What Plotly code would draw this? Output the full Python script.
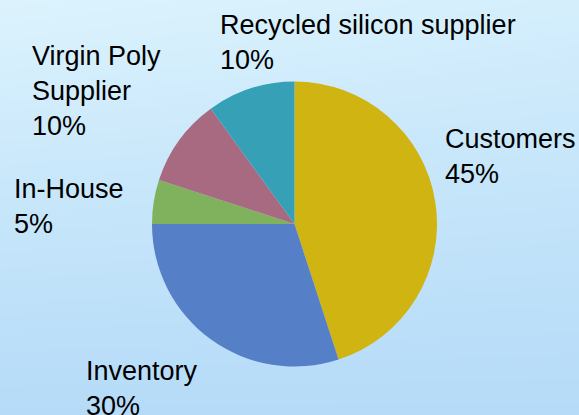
import plotly.graph_objects as go

# Data
labels = ["Customers", "Inventory", "In-House", "Virgin Poly Supplier", "Recycled silicon supplier"]
values = [45, 30, 5, 10, 10]
label_text = ["Customers", "Inventory", "In-House", "Virgin Poly<br>Supplier", "Recycled silicon supplier"]
pct_text = ["45%", "30%", "5%", "10%", "10%"]
colors = ["#CFB412", "#557FC6", "#80B25E", "#A86A80", "#36A0B6"]

W, H = 579, 415
# label top-left positions (px) for annotations
label_pos = [(443, 122), (84, 354), (12, 172), (30, 39), (218, 8)]

fig = go.Figure()

# background gradient
bg_z = [[1.0, 1.0, 1.0],
        [0.55, 0.6, 0.65],
        [0.0, 0.1, 0.2]]
fig.add_trace(go.Heatmap(
    z=bg_z, x=[0, 0.5, 1], y=[0, 0.5, 1], zsmooth="best",
    colorscale=[[0, "#DCF3FD"], [1, "#B5DBF8"]], showscale=False,
    hoverinfo="skip", xaxis="x", yaxis="y"))

fig.add_trace(go.Pie(
    labels=labels, values=values, sort=False, direction="clockwise",
    rotation=0, marker=dict(colors=colors, line=dict(width=0)),
    textinfo="none", hoverinfo="label+percent",
    domain=dict(x=[152 / W, 437 / W], y=[1 - 366.5 / H, 1 - 81.5 / H]),
    showlegend=False))

for (px, py), lt, pt in zip(label_pos, label_text, pct_text):
    fig.add_annotation(
        x=px / W, y=1 - py / H, xref="paper", yref="paper",
        xanchor="left", yanchor="top", align="left", showarrow=False,
        text=f"{lt}<br>{pt}",
        font=dict(family="Liberation Sans, Arial", size=27, color="#000000"))

fig.update_layout(
    width=W, height=H, margin=dict(l=0, r=0, t=0, b=0),
    paper_bgcolor="#C9E7FA", plot_bgcolor="rgba(0,0,0,0)",
    xaxis=dict(visible=False, range=[0, 1], domain=[0, 1], fixedrange=True),
    yaxis=dict(visible=False, range=[0, 1], domain=[0, 1], fixedrange=True),
)

fig.write_html("out.html")
